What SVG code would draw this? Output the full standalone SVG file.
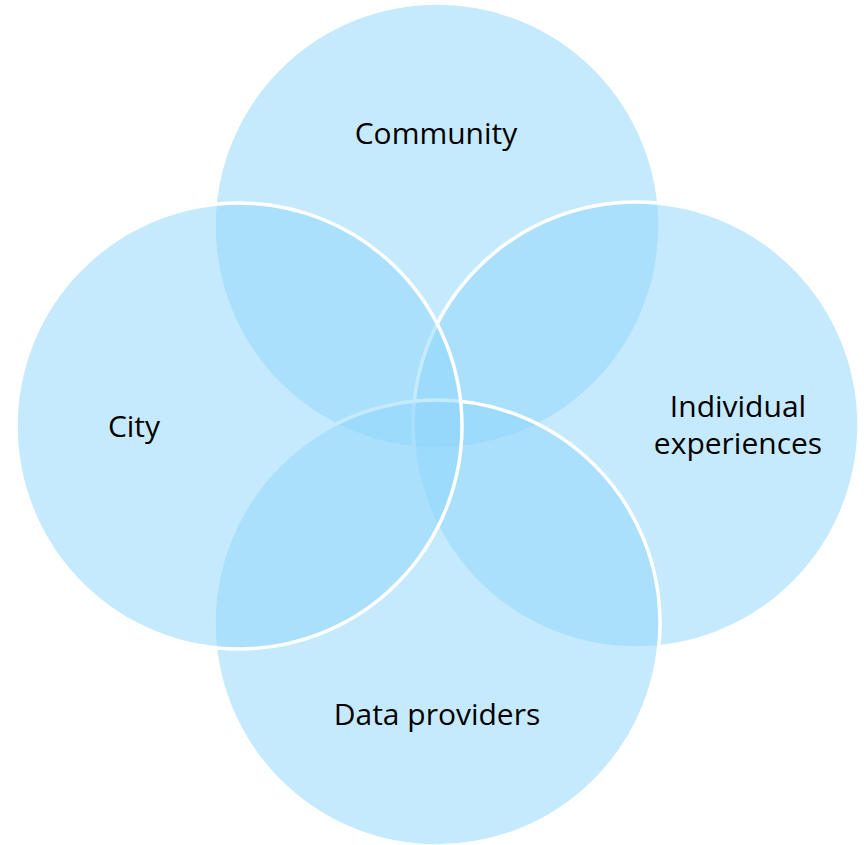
<svg xmlns="http://www.w3.org/2000/svg" width="864" height="845" viewBox="0 0 864 845">
<style>
.c{fill:#8DD5FB;fill-opacity:0.5;stroke:#FFFFFF;stroke-width:3.5}
.t{font-family:"Open Sans","Liberation Sans",sans-serif;font-size:30px;fill:#000000;text-anchor:middle}
</style>
<rect width="864" height="845" fill="#FFFFFF"/>
<g id="community"><circle class="c" cx="437" cy="226" r="223"/></g>
<g id="individual"><circle class="c" cx="636" cy="425" r="223"/></g>
<g id="data"><circle class="c" cx="437" cy="623" r="223"/></g>
<g id="city"><circle class="c" cx="239" cy="426" r="223"/></g>
<g id="labels">
<text class="t" x="436" y="144">Community</text>
<text class="t" x="134" y="437">City</text>
<text class="t" x="738" y="417">Individual</text>
<text class="t" x="738" y="454">experiences</text>
<text class="t" x="437" y="725">Data providers</text>
</g>
</svg>
